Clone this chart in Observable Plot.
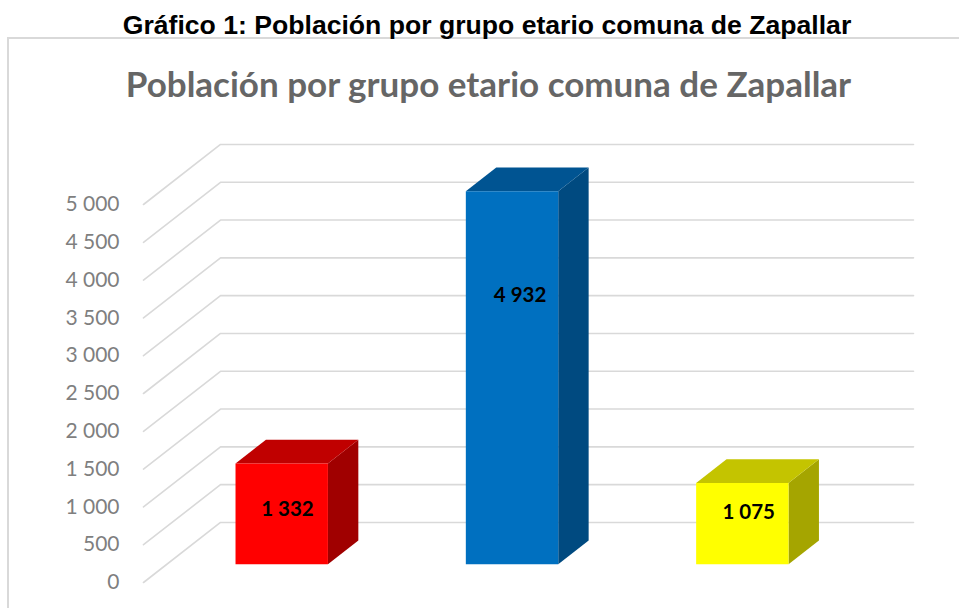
<!DOCTYPE html>
<html lang="es">
<head>
<meta charset="utf-8">
<script src="https://cdn.jsdelivr.net/npm/d3@7"></script>
<script src="https://cdn.jsdelivr.net/npm/@observablehq/plot@0.6"></script>
<style>
  html, body { margin: 0; padding: 0; background: #fff; }
  #page { position: relative; width: 959px; height: 608px; overflow: hidden; }
  #heading { position: absolute; left: 0; top: 11px; width: 974px; text-align: center;
    font: bold 26.6px "Liberation Sans", Arial, sans-serif; color: #000; line-height: 28px; white-space: nowrap; }
  #frame { position: absolute; left: 7px; top: 37px; width: 960px; height: 580px;
    border-left: 2px solid #d9d9d9; border-top: 2px solid #d9d9d9; }
  #chartTitle { position: absolute; left: 0; top: 63px; width: 977px; text-align: center;
    font: bold 35px Lato, "Open Sans", sans-serif; color: #666; line-height: 40px; white-space: nowrap; }
  #chart { position: absolute; left: 0; top: 110px; }
  #chart svg { display: block; background: transparent; }
</style>
</head>
<body>
<div id="page">
  <div id="frame"></div>
  <div id="heading">Gráfico 1: Población por grupo etario comuna de Zapallar</div>
  <div id="chartTitle">Población por grupo etario comuna de Zapallar</div>
  <div id="chart"></div>
</div>
<script>
// Data
const groupIndex = [0, 1, 2];
const population = [1332, 4932, 1075];
const yTicks = [0, 500, 1000, 1500, 2000, 2500, 3000, 3500, 4000, 4500, 5000];
const frontColors = ["#ff0000", "#0070c0", "#ffff00"];
const topColors = ["#c00000", "#005492", "#c4c400"];
const sideColors = ["#a00000", "#004a80", "#a5a500"];
// Where each value label sits, in axis units
const labelCategory = [0.623, 1.63, 2.62];
const labelValue = [966, 3796, 926];

// Oblique projection of the chart's third dimension onto x/y axis units
const depthX = 1 / 3;          // category units per full depth
const depthY = 794;            // value units per full depth
const nearZ = 0.305, farZ = 0.70;
const barWidth = 0.4;
const barStart = 0.4967, barStep = 0.997;
const project = (c, v, z) => ({x: c + z * depthX, y: v + z * depthY});

const gridPaths = yTicks.flatMap((v) =>
  [[0, v, 0], [0, v, 1], [3, v, 1]].map(([c, val, z]) => ({...project(c, val, z), v}))
);

const faces = groupIndex.flatMap((i) => {
  const v = population[i];
  const mid = barStart + i * barStep;
  const l = mid - barWidth / 2, r = mid + barWidth / 2;
  const face = (name, color, corners) =>
    corners.map(([c, val, z]) => ({...project(c, val, z), face: `${i}-${name}`, color}));
  return [
    ...face("side", sideColors[i], [[r, 0, nearZ], [r, 0, farZ], [r, v, farZ], [r, v, nearZ]]),
    ...face("top", topColors[i], [[l, v, nearZ], [r, v, nearZ], [r, v, farZ], [l, v, farZ]]),
    ...face("front", frontColors[i], [[l, 0, nearZ], [r, 0, nearZ], [r, v, nearZ], [l, v, nearZ]])
  ];
});

const numberFormat = d3.formatLocale({decimal: ",", thousands: " ", grouping: [3], currency: ["", ""]}).format(",");

const labels = groupIndex.map((i) => ({
  x: labelCategory[i],
  y: labelValue[i],
  text: numberFormat(population[i])
}));

const chart = Plot.plot({
  width: 959,
  height: 498,
  marginLeft: 143,
  marginRight: 123,
  marginTop: 94,
  marginBottom: 26,
  style: {fontFamily: "Lato, 'Open Sans', sans-serif", background: "transparent", overflow: "visible"},
  x: {domain: [0, 3], axis: null},
  y: {domain: [0, 5000]},
  marks: [
    Plot.axisY(yTicks, {
      anchor: "left",
      tickSize: 0,
      tickPadding: 24,
      tickFormat: numberFormat,
      label: null,
      color: "#7f7f7f",
      fontSize: 21
    }),
    Plot.line(gridPaths, {x: "x", y: "y", z: "v", stroke: "#d9d9d9", strokeWidth: 1.6}),
    Plot.line(faces, {x: "x", y: "y", z: "face", fill: "color", stroke: "none"}),
    Plot.text(labels, {x: "x", y: "y", text: "text", fill: "#000", fontSize: 20.5, fontWeight: "bold"})
  ]
});
document.getElementById("chart").appendChild(chart);
</script>
</body>
</html>
